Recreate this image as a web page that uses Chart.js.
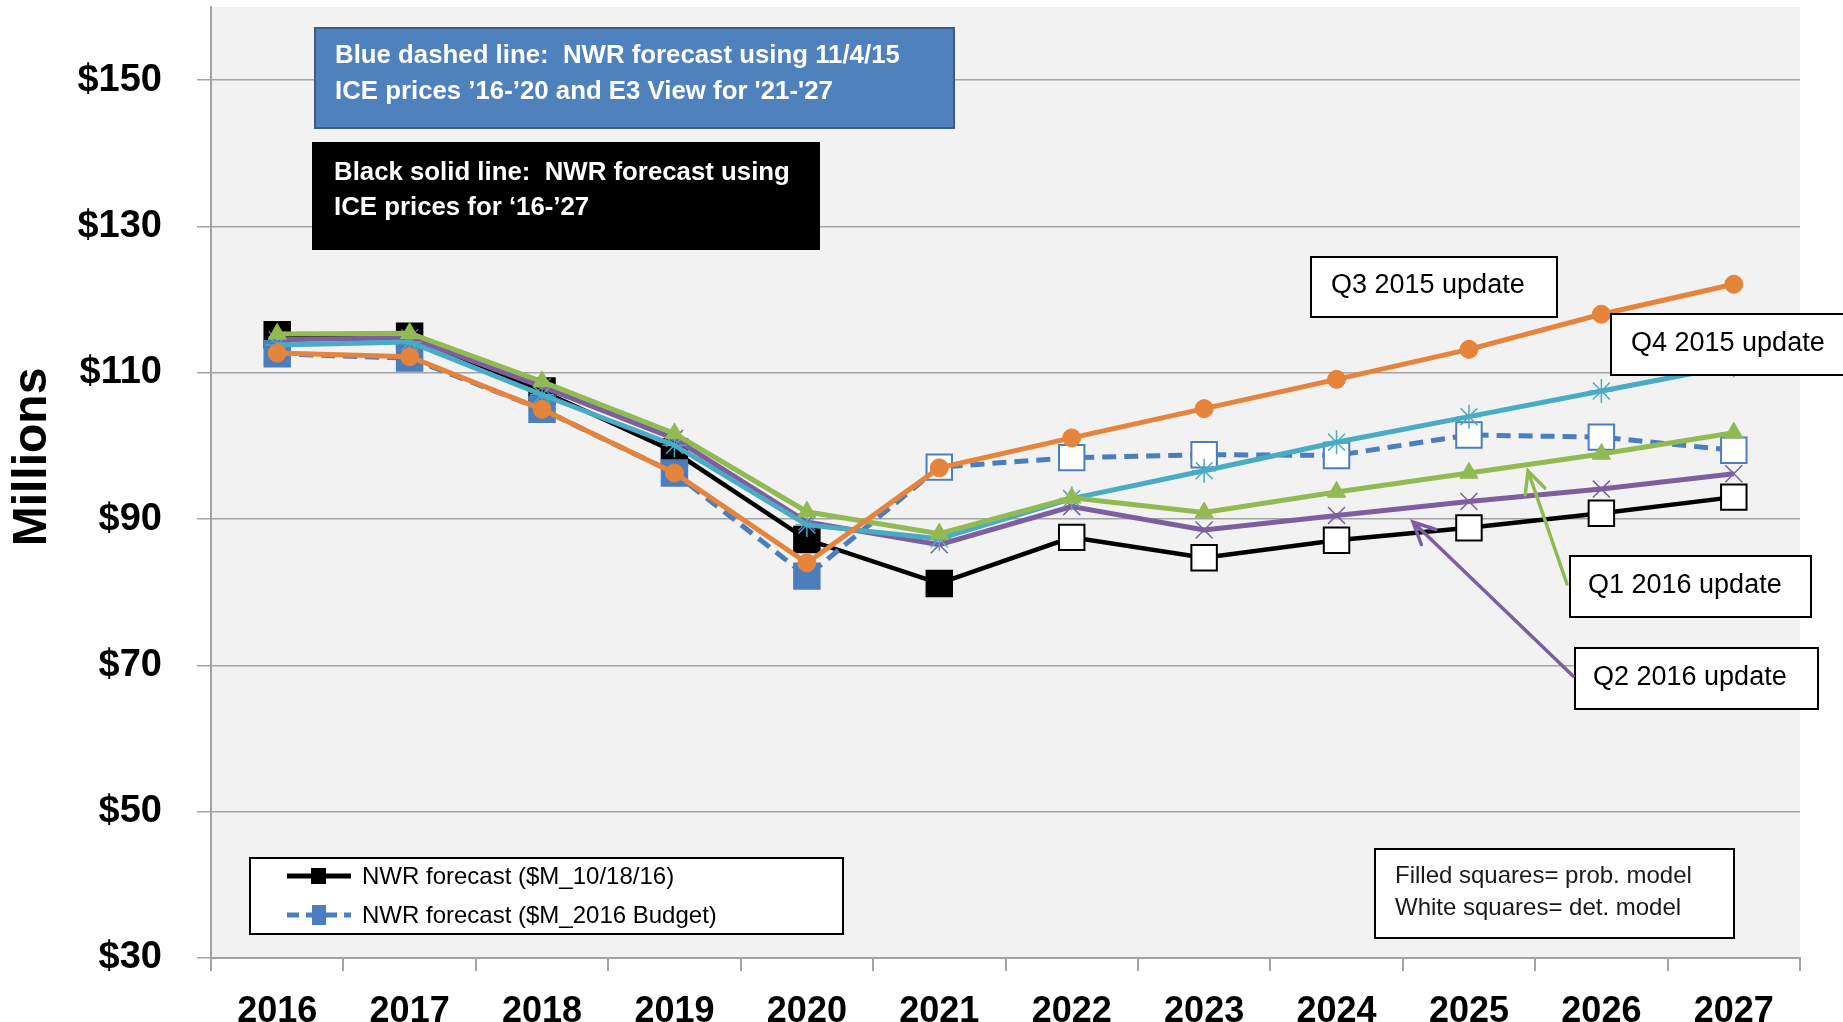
<!DOCTYPE html>
<html>
<head>
<meta charset="utf-8">
<script src="https://cdn.jsdelivr.net/npm/chart.js@4.4.1/dist/chart.umd.min.js"></script>
<style>
  html, body { margin: 0; padding: 0; background: #ffffff; }
  #wrap { width: 1843px; height: 1022px; }
</style>
</head>
<body>
<div id="wrap"><canvas id="chart" width="1843" height="1022"></canvas></div>
<script>
// Chart values ($ millions)
var years = ['2016', '2017', '2018', '2019', '2020', '2021', '2022', '2023', '2024', '2025', '2026', '2027'];
var yTicks = [30, 50, 70, 90, 110, 130, 150];

var nwr101816 = [115.2, 115.0, 107.5, 99.2, 87.2, 81.2, 87.5, 84.7, 87.1, 88.8, 90.8, 93.0];
var nwrBudget2016 = [112.6, 112.0, 105.0, 96.3, 82.2, 97.1, 98.4, 98.8, 98.7, 101.5, 101.2, 99.4];
var q3Update2015 = [112.7, 112.2, 105.0, 96.3, 84.0, 97.0, 101.1, 105.1, 109.1, 113.2, 118.0, 122.1];
var q4Update2015 = [113.8, 114.2, 107.0, 100.1, 89.2, 87.3, 92.8, 96.6, 100.5, 104.0, 107.5, 111.0];
var q1Update2016 = [115.3, 115.4, 108.8, 101.7, 91.0, 88.0, 92.9, 90.9, 93.7, 96.3, 98.9, 101.8];
var q2Update2016 = [114.5, 114.8, 108.1, 101.0, 89.6, 86.5, 91.7, 88.5, 90.5, 92.4, 94.1, 96.2];

// first year drawn with white (deterministic-model) squares
var blackDetFrom = 6;
var blueDetFrom = 5;

var blueNote = ['Blue dashed line:  NWR forecast using 11/4/15', 'ICE prices \u201916-\u201920 and E3 View for \'21-\'27'];
var blackNote = ['Black solid line:  NWR forecast using', 'ICE prices for \u201816-\u201927'];
var squaresNote = ['Filled squares= prob. model', 'White squares= det. model'];

var C_BLACK = '#000000';
var C_BLUE = '#4a7ebd';
var C_ORANGE = '#e5843a';
var C_TEAL = '#4aabc5';
var C_GREEN = '#92ba53';
var C_PURPLE = '#7d5fa0';
var C_GRID = '#a3a3a3';
var FONT = '"Liberation Sans", Arial, sans-serif';

function boxWithText(ctx, x, y, w, h, fill, stroke, lines, textColor, font, tx, lineYs) {
    ctx.save();
    ctx.fillStyle = fill;
    ctx.fillRect(x, y, w, h);
    ctx.lineWidth = 2;
    ctx.strokeStyle = stroke;
    ctx.strokeRect(x, y, w, h);
    ctx.fillStyle = textColor;
    ctx.font = font;
    ctx.textBaseline = 'middle';
    ctx.textAlign = 'left';
    for (var i = 0; i < lines.length; i++) {
        ctx.fillText(lines[i], tx, lineYs[i]);
    }
    ctx.restore();
}

function arrow(ctx, x0, y0, x1, y1, color) {
    var ang = Math.atan2(y1 - y0, x1 - x0);
    var len = 24, spread = 0.45;
    ctx.save();
    ctx.strokeStyle = color;
    ctx.lineWidth = 3.5;
    ctx.lineCap = 'round';
    ctx.beginPath();
    ctx.moveTo(x0, y0);
    ctx.lineTo(x1, y1);
    ctx.moveTo(x1 - len * Math.cos(ang - spread), y1 - len * Math.sin(ang - spread));
    ctx.lineTo(x1, y1);
    ctx.lineTo(x1 - len * Math.cos(ang + spread), y1 - len * Math.sin(ang + spread));
    ctx.stroke();
    ctx.restore();
}

// Gray plot background
var plotBg = {
    id: 'plotBg',
    beforeDraw: function (chart) {
        var a = chart.chartArea, ctx = chart.ctx;
        ctx.save();
        ctx.fillStyle = '#f2f2f2';
        ctx.fillRect(a.left, a.top, a.right - a.left, a.bottom - a.top);
        ctx.restore();
    }
};

// Notes, labels, arrows and the small legend
var notes = {
    id: 'notes',
    afterDraw: function (chart) {
        var ctx = chart.ctx;

        // axis title
        ctx.save();
        ctx.translate(33, 457);
        ctx.rotate(-Math.PI / 2);
        ctx.font = 'bold 48px ' + FONT;
        ctx.fillStyle = '#000';
        ctx.textAlign = 'center';
        ctx.textBaseline = 'middle';
        ctx.fillText('Millions', 0, 0);
        ctx.restore();

        boxWithText(ctx, 315, 28, 639, 100, '#4f81bd', '#385d8a', blueNote, '#ffffff', 'bold 25.8px ' + FONT, 335, [56, 92]);
        boxWithText(ctx, 313, 143, 506, 106, '#000000', '#000000', blackNote, '#ffffff', 'bold 25.8px ' + FONT, 334, [173, 208]);

        boxWithText(ctx, 1311, 257, 246, 60, '#ffffff', '#000', ['Q3 2015 update'], '#000', '27px ' + FONT, 1331, [286]);
        boxWithText(ctx, 1611, 314, 240, 61, '#ffffff', '#000', ['Q4 2015 update'], '#000', '27px ' + FONT, 1631, [344]);
        boxWithText(ctx, 1570, 556, 241, 61, '#ffffff', '#000', ['Q1 2016 update'], '#000', '27px ' + FONT, 1588, [586]);
        boxWithText(ctx, 1575, 648, 243, 61, '#ffffff', '#000', ['Q2 2016 update'], '#000', '27px ' + FONT, 1593, [678]);

        arrow(ctx, 1567, 584, 1528, 471, C_GREEN);
        arrow(ctx, 1573, 676, 1413, 522, C_PURPLE);

        boxWithText(ctx, 1375, 849, 359, 89, '#ffffff', '#000', squaresNote, '#1a1a1a', '24px ' + FONT, 1395, [876, 908]);

        // legend for the two NWR forecast series
        ctx.save();
        ctx.fillStyle = '#ffffff';
        ctx.fillRect(250, 858, 593, 76);
        ctx.lineWidth = 2;
        ctx.strokeStyle = '#000';
        ctx.strokeRect(250, 858, 593, 76);

        ctx.lineWidth = 5;
        ctx.strokeStyle = C_BLACK;
        ctx.beginPath();
        ctx.moveTo(287, 876); ctx.lineTo(351, 876);
        ctx.stroke();
        ctx.fillStyle = C_BLACK;
        ctx.fillRect(311, 868, 15, 16);

        ctx.strokeStyle = C_BLUE;
        ctx.setLineDash([12, 7]);
        ctx.beginPath();
        ctx.moveTo(287, 915); ctx.lineTo(351, 915);
        ctx.stroke();
        ctx.setLineDash([]);
        ctx.fillStyle = C_BLUE;
        ctx.fillRect(312, 905, 14, 20);

        ctx.fillStyle = '#000';
        ctx.font = '24px ' + FONT;
        ctx.textBaseline = 'middle';
        ctx.fillText('NWR forecast ($M_10/18/16)', 362, 877);
        ctx.fillText('NWR forecast ($M_2016 Budget)', 362, 916);
        ctx.restore();
    }
};

var data = {
    labels: years,
    datasets: [
        {
            label: 'Q3 2015 update',
            data: q3Update2015,
            order: 1,
            borderColor: C_ORANGE,
            backgroundColor: C_ORANGE,
            borderWidth: 5,
            pointStyle: 'circle',
            pointRadius: 9,
            pointBorderWidth: 1
        },
        {
            label: 'Q1 2016 update',
            data: q1Update2016,
            order: 2,
            borderColor: C_GREEN,
            backgroundColor: C_GREEN,
            borderWidth: 5,
            pointStyle: 'triangle',
            pointRadius: 10.5,
            pointBorderWidth: 1
        },
        {
            label: 'Q4 2015 update',
            data: q4Update2015,
            order: 3,
            borderColor: C_TEAL,
            backgroundColor: C_TEAL,
            borderWidth: 5,
            pointStyle: 'star',
            pointRadius: 12,
            pointBorderWidth: 1.5
        },
        {
            label: 'Q2 2016 update',
            data: q2Update2016,
            order: 4,
            borderColor: C_PURPLE,
            backgroundColor: C_PURPLE,
            borderWidth: 5,
            pointStyle: 'crossRot',
            pointRadius: 12,
            pointBorderWidth: 1.5
        },
        {
            label: 'NWR forecast ($M_2016 Budget)',
            data: nwrBudget2016,
            order: 5,
            borderColor: C_BLUE,
            borderWidth: 5,
            borderDash: [14, 8],
            pointStyle: 'rect',
            pointRadius: 18,
            pointBorderWidth: 2,
            pointBorderColor: C_BLUE,
            pointBackgroundColor: function (c) { return c.dataIndex < blueDetFrom ? C_BLUE : '#ffffff'; }
        },
        {
            label: 'NWR forecast ($M_10/18/16)',
            data: nwr101816,
            order: 6,
            borderColor: C_BLACK,
            borderWidth: 4.5,
            pointStyle: 'rect',
            pointRadius: 18,
            pointBorderWidth: 2,
            pointBorderColor: C_BLACK,
            pointBackgroundColor: function (c) { return c.dataIndex < blackDetFrom ? C_BLACK : '#ffffff'; }
        }
    ]
};

new Chart(document.getElementById('chart'), {
    type: 'line',
    data: data,
    plugins: [plotBg, notes],
    options: {
        responsive: false,
        animation: false,
        devicePixelRatio: 1,
        elements: { line: { tension: 0 } },
        layout: { autoPadding: false, padding: { top: 7, right: 43, left: 0, bottom: 0 } },
        plugins: {
            legend: { display: false },
            tooltip: { enabled: false },
            title: { display: false }
        },
        scales: {
            x: {
                type: 'category',
                offset: true,
                afterFit: function (s) {
                    s.height = 64;
                    s.paddingLeft = 0; s.paddingRight = 0;
                },
                grid: {
                    offset: true,
                    drawOnChartArea: false,
                    drawTicks: true,
                    tickLength: 13,
                    color: C_GRID,
                    lineWidth: 2
                },
                border: { display: true, color: C_GRID, width: 2 },
                ticks: {
                    autoSkip: false,
                    maxRotation: 0,
                    padding: 19,
                    color: '#000',
                    font: { family: FONT, size: 36, weight: 'bold' }
                }
            },
            y: {
                min: 30,
                max: 160,
                afterFit: function (s) {
                    s.width = 211;
                    s.paddingTop = 0; s.paddingBottom = 0;
                },
                afterBuildTicks: function (s) {
                    s.ticks = yTicks.map(function (v) { return { value: v }; });
                },
                grid: {
                    color: C_GRID,
                    lineWidth: 1.5,
                    drawTicks: true,
                    tickLength: 14
                },
                border: { display: true, color: C_GRID, width: 2 },
                ticks: {
                    padding: 35,
                    color: '#000',
                    font: { family: FONT, size: 38, weight: 'bold' },
                    callback: function (v) { return '$' + v; }
                }
            }
        }
    }
});
</script>
</body>
</html>
